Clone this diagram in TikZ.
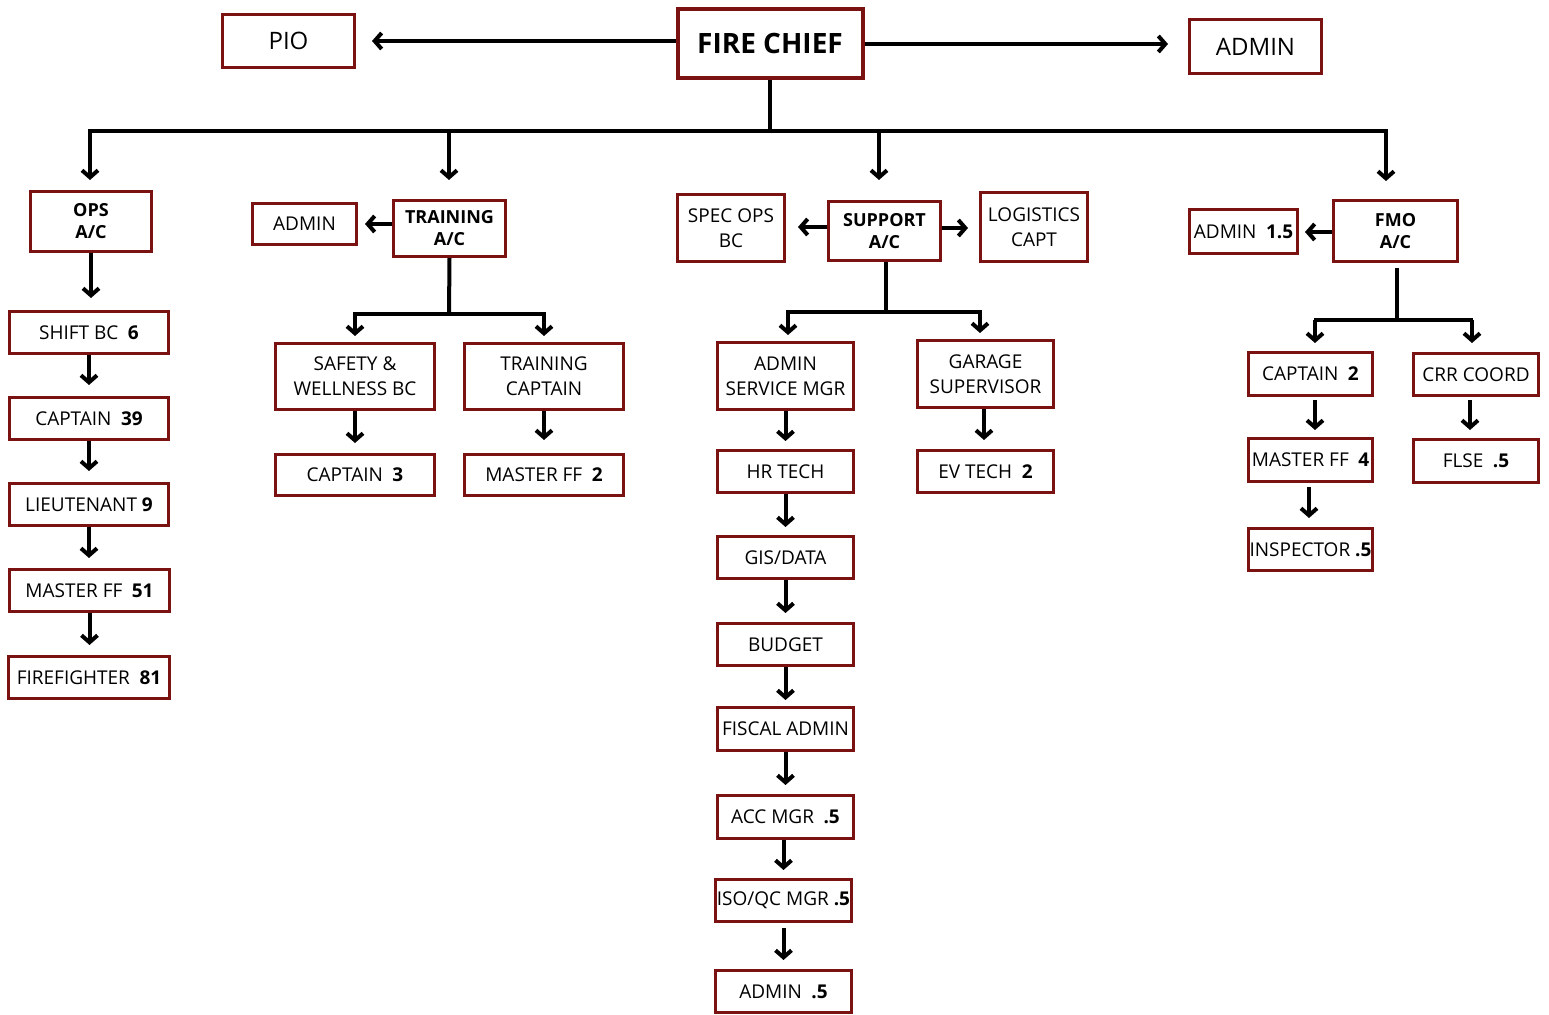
\documentclass[tikz,border=0pt]{standalone}
\usepackage{fontspec}
\setmainfont{Open Sans}
\usetikzlibrary{arrows.meta}
\definecolor{boxred}{RGB}{122,18,18}
\tikzset{
  bx/.style 2 args={draw=boxred, line width=1.5pt, fill=white, align=center, inner sep=0pt,
    minimum width=#1*0.5pt-1.5pt, minimum height=#2*0.5pt-1.5pt,
    font=\fontsize{9.5}{12.5}\selectfont},
  hd/.style={font=\fontsize{9}{11}\selectfont\bfseries},
  big/.style={font=\fontsize{12}{14}\selectfont},
  ln/.style={line width=2pt, draw=black},
  arr/.style={ln, -{Straight Barb[length=3.5pt,width=8pt,line width=2pt]}},
}
\begin{document}
\begin{tikzpicture}[x=0.5pt,y=-0.5pt]
\useasboundingbox (0,0) rectangle (1549,1015);
% top level
\node[bx={188}{72}, line width=2pt, font=\fontsize{14}{16}\selectfont\bfseries] (chief) at (770,44) {FIRE CHIEF};
\node[bx={135}{56}, big] (pio) at (288.5,41) {PIO};
\node[bx={135}{57}, big] (admtop) at (1255.5,46.5) {ADMIN};
% level 2
\node[bx={124}{63}, hd] (ops) at (91,221.5) {OPS\\A/C};
\node[bx={115}{59}, hd] (train) at (449.5,228.5) {TRAINING\\A/C};
\node[bx={115}{62}, hd] (support) at (884.5,231) {SUPPORT\\A/C};
\node[bx={127}{64}, hd] (fmo) at (1395.5,231) {FMO\\A/C};
% ops chain
\node[bx={162}{45}] (shift) at (89,332.5) {SHIFT BC\enspace\textbf{6}};
\node[bx={162}{45}] (cap39) at (89,418.5) {CAPTAIN\enspace\textbf{39}};
\node[bx={162}{45}] (lt9) at (89,504.5) {LIEUTENANT \textbf{9}};
\node[bx={163}{45}] (mff51) at (89.5,590.5) {MASTER FF\enspace\textbf{51}};
\node[bx={164}{45}] (ff81) at (89,677.5) {FIREFIGHTER\enspace\textbf{81}};
% training
\node[bx={107}{44}] (admtr) at (304.5,224) {ADMIN};
\node[bx={162}{69}] (safety) at (355,376.5) {SAFETY \&\\WELLNESS BC};
\node[bx={162}{69}] (trcap) at (544,376.5) {TRAINING\\CAPTAIN};
\node[bx={162}{44}] (cap3) at (355,475) {CAPTAIN\enspace\textbf{3}};
\node[bx={162}{44}] (mff2) at (544,475) {MASTER FF\enspace\textbf{2}};
% support
\node[bx={110}{70}] (specops) at (731,228) {SPEC OPS\\BC};
\node[bx={110}{72}] (logis) at (1034,227) {LOGISTICS\\CAPT};
\node[bx={139}{70}] (asm) at (785.5,376) {ADMIN\\SERVICE MGR};
\node[bx={139}{70}] (garage) at (985.5,374) {GARAGE\\SUPERVISOR};
\node[bx={139}{45}] (hr) at (785.5,471.5) {HR TECH};
\node[bx={139}{45}] (ev) at (985.5,471.5) {EV TECH\enspace\textbf{2}};
\node[bx={139}{45}] (gis) at (785.5,557.5) {GIS/DATA};
\node[bx={139}{45}] (budget) at (785.5,644.5) {BUDGET};
\node[bx={139}{46}] (fiscal) at (785.5,729) {FISCAL ADMIN};
\node[bx={139}{46}] (acc) at (785.5,817) {ACC MGR\enspace\textbf{.5}};
\node[bx={139}{45}] (iso) at (783.5,900.5) {ISO/QC MGR \textbf{.5}};
\node[bx={139}{45}] (adm5) at (783.5,991.5) {ADMIN\enspace\textbf{.5}};
% fmo
\node[bx={111}{47}] (adm15) at (1243.5,231.5) {ADMIN\enspace\textbf{1.5}};
\node[bx={127}{46}] (cap2) at (1310.5,374) {CAPTAIN\enspace\textbf{2}};
\node[bx={128}{45}] (crr) at (1476,374.5) {CRR COORD};
\node[bx={127}{46}] (mff4) at (1310.5,460) {MASTER FF\enspace\textbf{4}};
\node[bx={128}{46}] (flse) at (1476,461) {FLSE\enspace\textbf{.5}};
\node[bx={127}{45}] (insp) at (1310.5,549.5) {INSPECTOR \textbf{.5}};

% top connectors
\draw[arr, shorten >=8pt] (chief.west |- pio.east) -- (pio.east);
\draw[arr, shorten >=10pt] (chief.east |- 0,44) -- (admtop.west |- 0,44);
\coordinate (d1) at (90,131);
\coordinate (d2) at (449,131);
\coordinate (d3) at (879,131);
\coordinate (d4) at (1386,131);
\draw[ln] (chief.south) -- (chief.south |- d1);
\draw[ln] ([xshift=-1pt]d1) -- ([xshift=1pt]d4);
\draw[arr, shorten >=5pt] (d1) -- (d1 |- ops.north);
\draw[arr, shorten >=9.5pt] (d2) -- (d2 |- train.north);
\draw[arr, shorten >=10pt] (d3) -- (d3 |- support.north);
\draw[arr, shorten >=9pt] (d4) -- (d4 |- fmo.north);

% ops chain
\draw[arr, shorten >=6pt] (ops.south) -- (ops.south |- shift.north);
\draw[arr, shorten >=5.5pt] (shift.south) -- (cap39.north);
\draw[arr, shorten >=5.5pt] (cap39.south) -- (lt9.north);
\draw[arr, shorten >=5pt] (lt9.south) -- (lt9.south |- mff51.north);
\draw[arr, shorten >=5pt] (mff51.south) -- (mff51.south |- ff81.north);

% training
\draw[arr, shorten >=3.5pt] (train.west |- admtr.east) -- (admtr.east);
\coordinate (tj) at (449,314);
\draw[ln] (train.south) -- (tj);
\draw[ln] ([xshift=-1pt]safety.north |- tj) -- ([xshift=1pt]trcap.north |- tj);
\draw[arr, shorten >=3pt] (safety.north |- tj) -- (safety.north);
\draw[arr, shorten >=3pt] (trcap.north |- tj) -- (trcap.north);
\draw[arr, shorten >=5pt] (safety.south) -- (cap3.north);
\draw[arr, shorten >=6.5pt] (trcap.south) -- (mff2.north);

% support
\draw[arr, shorten >=6pt] (support.west |- 0,227) -- (specops.east |- 0,227);
\draw[arr, shorten >=5.5pt] (support.east |- 0,228) -- (logis.west |- 0,228);
\coordinate (sj) at (886,312);
\draw[ln] (support.south -| sj) -- (sj);
\draw[ln] ([xshift=-1pt]788,312) coordinate (sjl) -- ([xshift=1pt]980,312) coordinate (sjr);
\draw[arr, shorten >=3pt] (788,312) -- (788,341);
\draw[arr, shorten >=3pt] (980,312) -- (980,339);
\draw[arr, shorten >=4pt] (asm.south) -- (hr.north);
\draw[arr, shorten >=4.5pt] (garage.south -| 984,0) -- (ev.north -| 984,0);
\draw[arr, shorten >=4pt] (hr.south) -- (gis.north);
\draw[arr, shorten >=4.5pt] (gis.south) -- (budget.north);
\draw[arr, shorten >=3pt] (budget.south) -- (fiscal.north);
\draw[arr, shorten >=4.5pt] (fiscal.south) -- (acc.north);
\draw[arr, shorten >=4pt] (acc.south -| iso.south) -- (iso.north);
\draw[arr, shorten <=2.5pt, shorten >=4.5pt] (iso.south) -- (adm5.north);

% fmo
\draw[arr, shorten >=3pt] (fmo.west |- 0,232) -- (adm15.east |- 0,232);
\coordinate (fj) at (1397,320);
\draw[ln, shorten <=2.5pt] (fmo.south -| fj) -- (fj);
\draw[ln] (1314,320) -- (1473,320);
\draw[arr, shorten >=4pt] (1315,320) -- (1315,351);
\draw[arr, shorten >=4.5pt] (1472,320) -- (1472,352);
\draw[arr, shorten <=1.5pt, shorten >=3.5pt] (cap2.south -| 1315,0) -- (mff4.north -| 1315,0);
\draw[arr, shorten <=1.5pt, shorten >=4pt] (crr.south -| 1470,0) -- (flse.north -| 1470,0);
\draw[arr, shorten <=2pt, shorten >=4.5pt] (mff4.south -| 1309,0) -- (insp.north -| 1309,0);
\end{tikzpicture}
\end{document}
